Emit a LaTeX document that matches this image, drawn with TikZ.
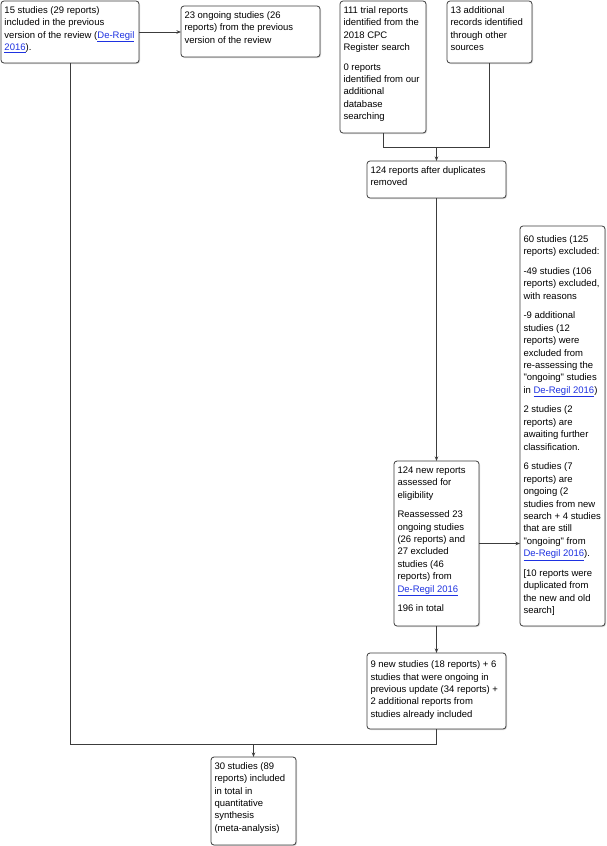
\documentclass[tikz,border=0pt]{standalone}
\usepackage{fontspec}
\setmainfont{Liberation Sans}[Ligatures=TeXOff]
\usetikzlibrary{arrows.meta,shadows}
\definecolor{linkblue}{RGB}{30,50,225}
\definecolor{edge}{RGB}{60,60,60}
\newcommand{\lnk}[1]{\textcolor{linkblue}{\underline{#1}}}
\newcommand{\bxt}[4][0pt]{\parbox[c][#3][t]{#2}{\fontsize{9.5pt}{12.4pt}\selectfont\setlength\parskip{7.3pt}\raggedright\rule{0pt}{\dimexpr8.7pt+#1\relax}#4\par}}
\tikzset{
  box/.style={draw=edge, line width=0.8pt, rounded corners=3pt, fill=white, inner sep=3.5pt, outer sep=0pt, anchor=north west,
    drop shadow={shadow xshift=1pt, shadow yshift=-1pt, opacity=0.3, fill=gray}},
  conn/.style={draw=edge, line width=0.8pt},
  arr/.style={conn, -{Stealth[length=4.5pt,width=3.5pt]}}
}
\begin{document}
\begin{tikzpicture}[x=1pt,y=-1pt]
\useasboundingbox (0,0) rectangle (607,846);
\node[box] (A) at (1,1) {\bxt{131pt}{55pt}{15 studies (29 reports)\\ included in the previous\\ version of the review (\lnk{De-Regil}\\ \lnk{2016}).}};
\node[box] (B) at (181,6) {\bxt{132pt}{44pt}{23 ongoing studies (26\\ reports) from the previous\\ version of the review}};
\node[box] (C) at (340,1) {\bxt{79pt}{125pt}{111 trial reports\\ identified from the\\ 2018 CPC\\ Register search\par 0 reports\\ identified from our\\ additional\\ database\\ searching}};
\node[box] (D) at (447,1) {\bxt{78pt}{55pt}{13 additional\\ records identified\\ through other\\ sources}};
\node[box] (E) at (367,161) {\bxt{132pt}{30pt}{124 reports after duplicates\\ removed}};
\node[box] (F) at (394,461) {\bxt{78pt}{158pt}{124 new reports\\ assessed for\\ eligibility\par Reassessed 23\\ ongoing studies\\ (26 reports) and\\ 27 excluded\\ studies (46\\ reports) from\\ \lnk{De-Regil 2016}\par 196 in total}};
\node[box] (G) at (520,226) {\bxt[4pt]{78pt}{393pt}{60 studies (125\\ reports) excluded:\par -49 studies (106\\ reports) excluded,\\ with reasons\par -9 additional\\ studies (12\\ reports) were\\ excluded from\\ re-assessing the\\ "ongoing" studies\\ in \lnk{De-Regil 2016})\par 2 studies (2\\ reports) are\\ awaiting further\\ classification.\par 6 studies (7\\ reports) are\\ ongoing (2\\ studies from new\\ search + 4 studies\\ that are still\\ "ongoing" from\\ \lnk{De-Regil 2016}).\par [10 reports were\\ duplicated from\\ the new and old\\ search]}};
\node[box] (H) at (367,653) {\bxt[2.5pt]{132pt}{69pt}{9 new studies (18 reports) + 6\\ studies that were ongoing in\\ previous update (34 reports) +\\ 2 additional reports from\\ studies already included}};
\node[box] (I) at (211,757) {\bxt{78pt}{81pt}{30 studies (89\\ reports) included\\ in total in\\ quantitative\\ synthesis\\ (meta-analysis)}};
\coordinate (j1) at (436.5,147);
\coordinate (j2) at (253.5,744);
\draw[arr] (A.east) -- (B.west |- A.east);
\draw[conn] (C.south) -- (C.south |- j1) -- (D.south |- j1) -- (D.south);
\draw[arr] (j1) -- (E.north);
\draw[arr] (E.south) -- (F.north);
\draw[arr] (F.east) -- (G.west |- F.east);
\draw[arr] (F.south) -- (H.north);
\draw[conn] (H.south) -- (H.south |- j2) -- (A.south |- j2) -- (A.south);
\draw[arr] (j2) -- (I.north);
\end{tikzpicture}
\end{document}
